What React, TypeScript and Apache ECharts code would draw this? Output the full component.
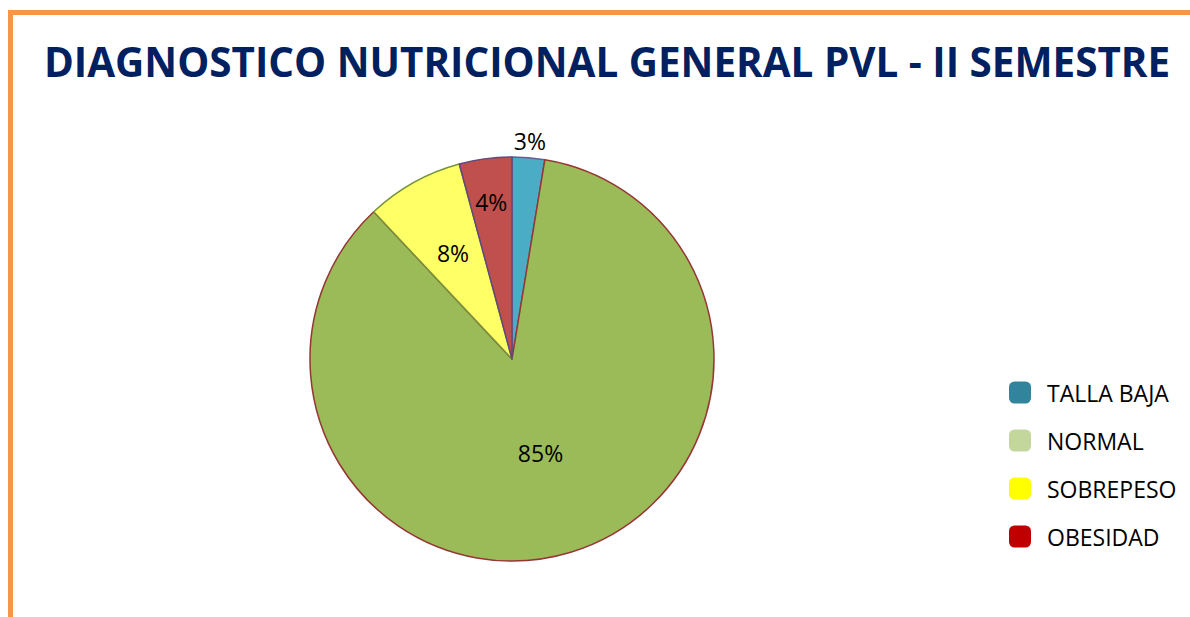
import React, { useEffect, useRef } from "react";
import * as echarts from "echarts";

const TITLE = "DIAGNOSTICO NUTRICIONAL GENERAL PVL - II SEMESTRE";
const categories = ["TALLA BAJA", "NORMAL", "SOBREPESO", "OBESIDAD"];
const values = [2.6, 85.4, 7.8, 4.2];
const sliceColors = ["#4BACC6", "#9BBB59", "#FFFF66", "#C0504D"];
const sliceBorders = ["#6A5A96", "#953735", "#77933C", "#604A7B"];
const legendColors = ["#31849B", "#C3D69B", "#FFFF00", "#C00000"];
// radius of the transparent helper pie whose "inside" label lands where the reference puts it
const labelRadius = [432, 190, 236, 310];

const CENTER: [number, number] = [512, 359];
const R = 202;
const FONT = "'Open Sans', 'Noto Sans', sans-serif";

export default function App() {
  const ref = useRef<HTMLDivElement>(null);
  useEffect(() => {
    if (!ref.current) return;
    const chart = echarts.init(ref.current, undefined, { renderer: "svg" });
    const fmt = (p: any) => Math.round(p.percent) + "%";
    const labelSeries = categories.map((_, k) => ({
      type: "pie",
      silent: true,
      center: CENTER,
      radius: [0, labelRadius[k]],
      startAngle: 90,
      clockwise: true,
      z: 5,
      legendHoverLink: false,
      itemStyle: { color: "transparent", borderWidth: 0 },
      labelLine: { show: false },
      data: categories.map((name, i) => ({
        name,
        value: values[i],
        label: {
          show: i === k,
          position: "inside",
          formatter: fmt,
          color: "#000",
          fontSize: 23,
          fontFamily: FONT,
        },
      })),
    }));
    chart.setOption({
      animation: false,
      backgroundColor: "#fff",
      graphic: [
        {
          type: "rect",
          shape: { x: 10.5, y: 12.5, width: 1400, height: 800 },
          style: { fill: "none", stroke: "#F79646", lineWidth: 5 },
          silent: true,
        },
        {
          type: "text",
          x: 607,
          y: 61,
          style: {
            text: TITLE,
            fill: "#002060",
            font: `bold 40.4px ${FONT}`,
            textAlign: "center",
            textVerticalAlign: "middle",
          },
        },
      ],
      legend: {
        orient: "vertical",
        left: 1009,
        top: 381,
        padding: 0,
        itemWidth: 22,
        itemHeight: 22,
        itemGap: 25,
        icon: "roundRect",
        selectedMode: false,
        textStyle: {
          fontSize: 23,
          fontFamily: FONT,
          color: "#000",
          lineHeight: 22,
          padding: [0, 0, 0, 11],
        },
        data: categories.map((name, i) => ({
          name,
          itemStyle: { color: legendColors[i], borderWidth: 0 },
        })),
      },
      series: [
        {
          type: "pie",
          center: CENTER,
          radius: [0, R],
          startAngle: 90,
          clockwise: true,
          label: { show: false },
          labelLine: { show: false },
          data: categories.map((name, i) => ({
            name,
            value: values[i],
            itemStyle: {
              color: sliceColors[i],
              borderColor: sliceBorders[i],
              borderWidth: 1.5,
            },
          })),
        },
        ...labelSeries,
      ],
    });
    return () => chart.dispose();
  }, []);
  return (
    <div
      ref={ref}
      style={{ position: "fixed", left: 0, top: 0, width: 1190, height: 617 }}
    />
  );
}
